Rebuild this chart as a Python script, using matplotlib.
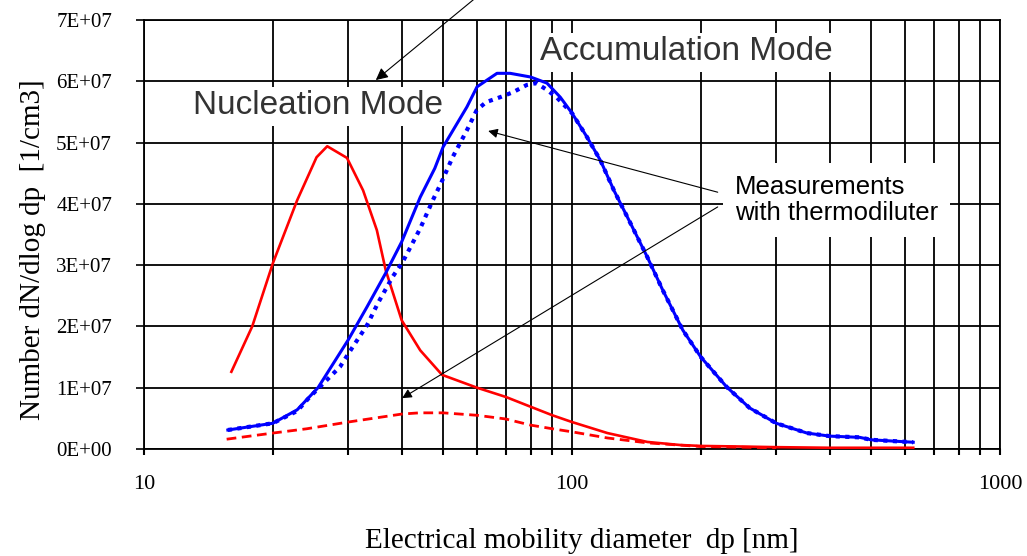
import matplotlib
matplotlib.use("Agg")
import matplotlib.pyplot as plt
from matplotlib.ticker import FixedLocator, FixedFormatter, NullFormatter, LogLocator

# ---- data (values in units of 1E+07 for y) ----
red_solid_x = [16.0, 17.9, 20, 22.8, 25.3, 26.8, 29.8, 32.5, 35.0, 36.7, 40, 44.2, 49.7,
               60, 70, 80, 90, 100, 121, 150, 179, 200, 250, 300, 400, 500, 627]
red_solid_y = [1.26, 2.0, 3.03, 4.06, 4.76, 4.94, 4.75, 4.22, 3.57, 2.92, 2.10, 1.61, 1.21,
               1.0, 0.85, 0.69, 0.55, 0.44, 0.26, 0.115, 0.065, 0.05, 0.04, 0.03, 0.02, 0.02, 0.02]

red_dash_x = [15.6, 20, 24, 30, 40, 44, 50, 60, 70, 80, 90, 100, 121, 150, 200, 300]
red_dash_y = [0.16, 0.26, 0.33, 0.44, 0.57, 0.59, 0.59, 0.55, 0.49, 0.39, 0.33, 0.28, 0.18,
              0.10, 0.04, 0.02]

blue_solid_x = [15.7, 20, 22.8, 25.5, 30, 33.2, 36.7, 40, 44.2, 47.8, 50, 56.8, 60, 66.8,
                71.7, 80, 87.4, 93.9, 100, 108.4, 116.5, 125.3, 134.8, 150, 163, 181.5, 200,
                230, 260, 300, 354, 400, 470, 500, 627]
blue_solid_y = [0.31, 0.42, 0.64, 1.0, 1.78, 2.32, 2.87, 3.38, 4.11, 4.58, 4.93, 5.58, 5.91,
                6.13, 6.13, 6.07, 5.97, 5.74, 5.48, 5.09, 4.71, 4.22, 3.78, 3.13, 2.59, 1.94,
                1.5, 1.01, 0.67, 0.42, 0.26, 0.21, 0.19, 0.15, 0.11]

blue_dot_x = [15.7, 20, 22.8, 24.4, 28.7, 30.7, 33.2, 35.2, 38.1, 40.2, 44.2, 47.3, 49.6,
              52.6, 56.8, 59.9, 63, 67.9, 72.7, 78.4, 82.5, 87.4, 92.3, 100, 108.4, 116.5,
              125.3, 134.8, 150, 163, 181.5, 200, 230, 260, 300, 354, 400, 470, 500, 627]
blue_dot_y = [0.31, 0.42, 0.62, 0.85, 1.34, 1.66, 2.02, 2.38, 2.81, 3.05, 3.6, 4.06, 4.36,
              4.76, 5.2, 5.53, 5.66, 5.74, 5.82, 5.94, 5.97, 5.86, 5.73, 5.48, 5.09, 4.71,
              4.22, 3.78, 3.13, 2.59, 1.94, 1.5, 1.01, 0.67, 0.42, 0.26, 0.21, 0.19, 0.15, 0.11]

y_ticks = [0, 1, 2, 3, 4, 5, 6, 7]
y_tick_labels = ["0E+00", "1E+07", "2E+07", "3E+07", "4E+07", "5E+07", "6E+07", "7E+07"]
x_ticks = [10, 100, 1000]
x_tick_labels = ["10", "100", "1000"]

SCALE = 1e7

fig = plt.figure(figsize=(10.27, 5.56), dpi=100)
ax = fig.add_axes([144/1027, 1-449/556, 856/1027, 429/556])

ax.set_xscale("log")
ax.set_xlim(10, 1000)
ax.set_ylim(0, 7 * SCALE)

ax.plot(red_solid_x, [v * SCALE for v in red_solid_y], color="#ff0000", lw=1.9, zorder=4)
ax.plot(red_dash_x, [v * SCALE for v in red_dash_y], color="#ff0000", lw=2.0,
        dashes=(3.5, 2.0), zorder=4)
ax.plot(blue_dot_x, [v * SCALE for v in blue_dot_y], color="#0000ff", lw=3.0,
        dashes=(1.0, 1.3), zorder=4)
ax.plot(blue_solid_x, [v * SCALE for v in blue_solid_y], color="#0000ff", lw=2.2, zorder=5)

serif = ["Liberation Serif", "DejaVu Serif"]
sans = ["Liberation Sans", "DejaVu Sans"]

ax.yaxis.set_major_locator(FixedLocator([v * SCALE for v in y_ticks]))
ax.yaxis.set_major_formatter(FixedFormatter(y_tick_labels))
ax.xaxis.set_major_locator(FixedLocator(x_ticks))
ax.xaxis.set_major_formatter(FixedFormatter(x_tick_labels))
ax.xaxis.set_minor_locator(LogLocator(base=10, subs=[2, 3, 4, 5, 6, 7, 8, 9]))
ax.xaxis.set_minor_formatter(NullFormatter())

ax.tick_params(axis="y", direction="out", length=6, width=1.2, pad=17)
ax.tick_params(axis="x", which="both", direction="out", length=4, width=1.5, pad=14.5)
for lab in ax.get_yticklabels():
    lab.set_fontfamily(serif)
    lab.set_fontsize(15)
for lab in ax.get_xticklabels():
    lab.set_fontfamily(serif)
    lab.set_fontsize(16)

ax.grid(True, axis="x", which="both", color="black", lw=1.3)
ax.grid(True, axis="y", which="major", color="black", lw=1.3)
ax.set_axisbelow(True)
for sp in ax.spines.values():
    sp.set_linewidth(1.3)
    sp.set_color("black")

ax.set_xlabel("Electrical mobility diameter  dp [nm]", fontfamily=serif, fontsize=21)
ax.xaxis.set_label_coords((582-144)/856, (449-528)/429)
ax.set_ylabel("Number dN/dlog dp  [1/cm3]", fontfamily=serif, fontsize=21)
ax.yaxis.set_label_coords((46-144)/856, (449-250)/429)

box = dict(boxstyle="square,pad=0.12", facecolor="white", edgecolor="none")
ax.text((318-144)/856, (449-106)/429, "Nucleation Mode", transform=ax.transAxes,
        ha="center", va="center", fontsize=24, fontfamily=sans, color="#333333",
        bbox=box, zorder=3)
ax.text((686-144)/856, (449-52)/429, "Accumulation Mode", transform=ax.transAxes,
        ha="center", va="center", fontsize=24, fontfamily=sans, color="#333333",
        bbox=box, zorder=3)
ax.text((735-144)/856, (449-200)/429, "Measurements\nwith thermodiluter",
        transform=ax.transAxes, ha="left", va="center", fontsize=18.5, fontfamily=sans,
        color="black", linespacing=1.15,
        bbox=dict(boxstyle="square,pad=0.45", facecolor="white", edgecolor="none"),
        zorder=3)

arrow = dict(arrowstyle="-|>", lw=0.8, color="black", shrinkA=0, shrinkB=0,
             mutation_scale=14)
ax.annotate("", xy=(34.8, 6.02 * SCALE), xytext=(62.7, 7.49 * SCALE),
            arrowprops=dict(arrow, mutation_scale=18), annotation_clip=False, zorder=6)
ax.annotate("", xy=(63.7, 5.19 * SCALE), xytext=(219, 4.19 * SCALE),
            arrowprops=arrow, annotation_clip=False, zorder=6)
ax.annotate("", xy=(40.1, 0.83 * SCALE), xytext=(219, 3.95 * SCALE),
            arrowprops=arrow, annotation_clip=False, zorder=6)

fig.savefig("out.png", dpi=100, facecolor="white")
